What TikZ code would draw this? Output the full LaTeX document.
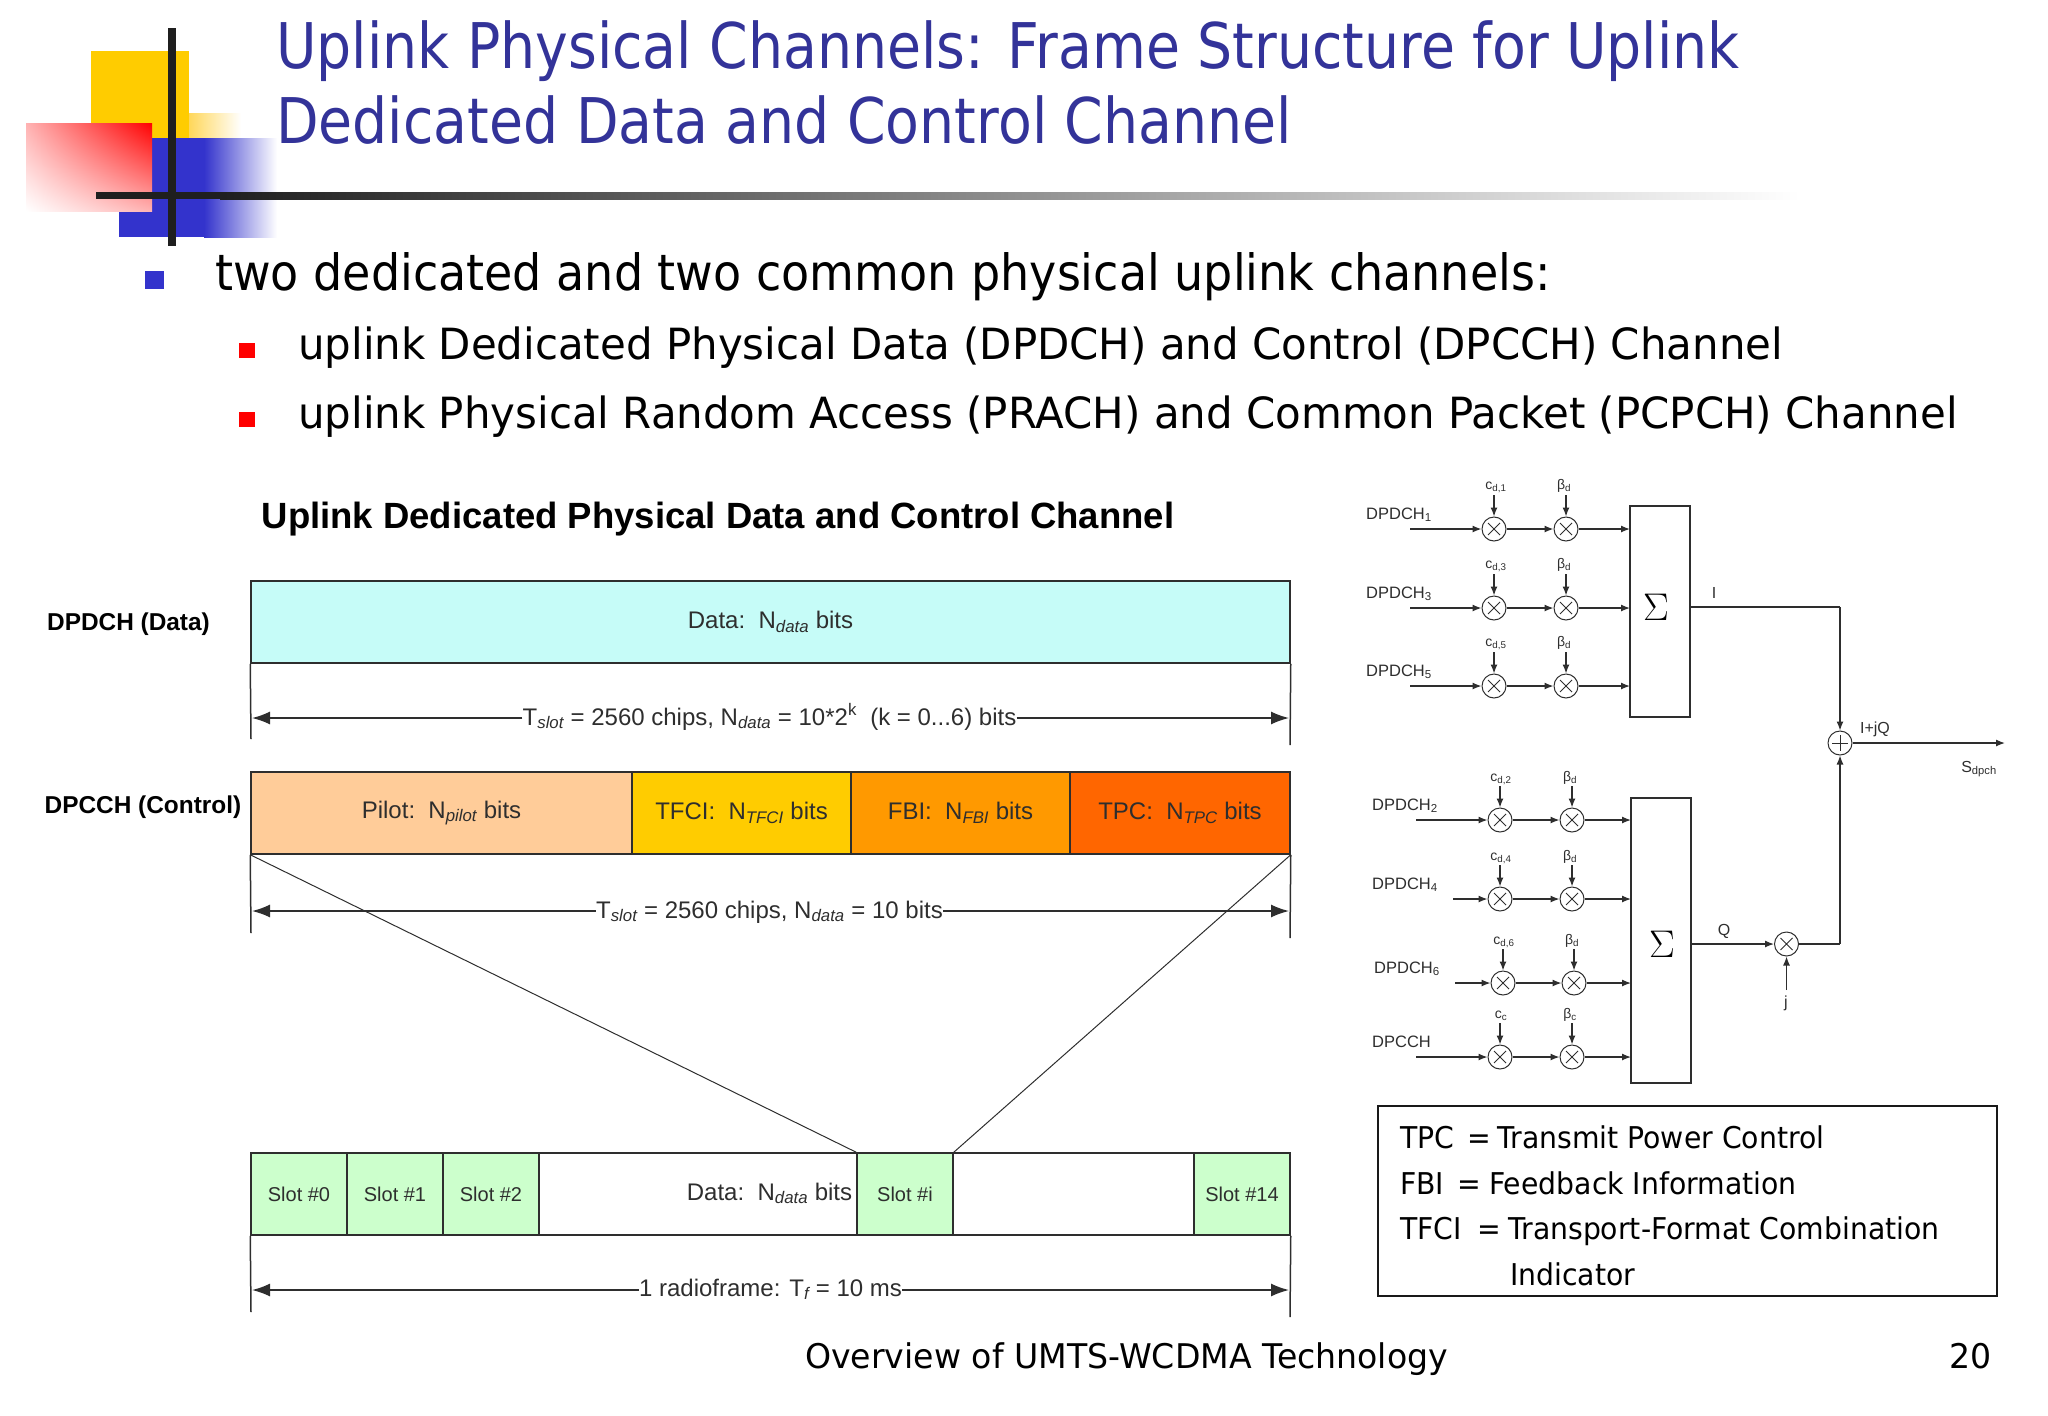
\documentclass[tikz,border=0pt]{standalone}
\usepackage{fontspec}
\usetikzlibrary{arrows.meta,shadings}
\setmainfont{Liberation Sans}
\newfontfamily\titlefont[FakeStretch=0.878]{DejaVu Sans}
\newfontfamily\pointfont[FakeStretch=0.92]{DejaVu Sans}
\newfontfamily\subpointfont[FakeStretch=0.975]{DejaVu Sans}
\newfontfamily\legendfont[FakeStretch=0.943]{DejaVu Sans}
\newcommand{\setsize}[1]{\fontsize{#1}{#1}\selectfont}
\newcommand{\sli}[1]{\textsubscript{\itshape #1}}
\definecolor{titleblue}{HTML}{333399}
\definecolor{bulletblue}{HTML}{3333CC}
\definecolor{slotgreen}{HTML}{CCFFCC}
\definecolor{datacyan}{HTML}{C6FCF8}
\definecolor{inkgray}{HTML}{2E2E2E}
\tikzset{
	slidetext/.style={anchor=base west, inner sep=0pt, font=\legendfont\setsize{#1}},
	figtext/.style={anchor=base, inner sep=0pt, text=inkgray, font=\setsize{#1}},
	field/.style={draw=inkgray, line width=1.5pt, inner sep=0pt, text=inkgray, font=\setsize{24}},
	slotbox/.style={field, fill=slotgreen, minimum width=96, minimum height=82, font=\setsize{20}},
	dimline/.style={line width=1.6pt, draw=inkgray, -{Latex[length=18,width=13]}},
	tickline/.style={line width=1.5pt, draw=inkgray},
	sigline/.style={line width=1.3pt, draw=inkgray, -{Latex[length=9,width=7]}},
	plainline/.style={line width=1.3pt, draw=inkgray},
	mult/.style={circle, draw=inkgray, line width=1pt, minimum size=24, inner sep=0pt, path picture={
		\draw[line width=.9pt, draw=inkgray] (path picture bounding box.center) +(-6,-6) -- +(6,6) +(-6,6) -- +(6,-6);}},
	adder/.style={circle, draw=inkgray, line width=1pt, minimum size=24, inner sep=0pt, path picture={
		\draw[line width=.9pt, draw=inkgray] (path picture bounding box.center) +(-8,0) -- +(8,0) +(0,-8) -- +(0,8);}},
	sumbox/.style={draw=inkgray, line width=1.2pt, minimum width=60, inner sep=0pt},
	sumsign/.style={inner sep=0pt, scale=1.55, font=\setsize{24.88}},
	chlabel/.style={anchor=base west, inner sep=0pt, text=inkgray, font=\setsize{16.5}},
	gainlabel/.style={anchor=base, inner sep=0pt, text=inkgray, font=\setsize{14}}
}

\begin{document}
\begin{tikzpicture}[x=1pt, y=-1pt]
	%%%%% CORNER ART %%%%%
	\useasboundingbox (0, 0) rectangle (2048, 1416);
	\fill[color={rgb,255:red,255;green,204;blue,0}] (91, 51) rectangle (189, 138);
	\shade[left color={rgb,255:red,255;green,215;blue,90}, right color=white] (189, 113) rectangle (241, 138);
	\shade[left color=bulletblue, right color=white] (204, 138) rectangle (277, 237);
	\fill[color=bulletblue] (119, 138) rectangle (205, 237);
	\shade[upper right=red, lower left=white, upper left=red!30, lower right=red!30] (26, 123) rectangle (152, 211);
	\fill[color=black!88] (168, 28) rectangle (175.5, 246);
	\fill[color=black!88] (96, 192) rectangle (220, 199);
	\shade[left color=black!88, right color=white] (220, 192) rectangle (1800, 199);

	%%%%% SLIDE TEXT %%%%%
	\node[slidetext=63, font=\titlefont\setsize{63}, text=titleblue] (titlea) at (276, 68) {Uplink Physical Channels: Frame Structure for Uplink};
	\node[slidetext=63, font=\titlefont\setsize{63}, text=titleblue] (titleb) at (276, 143) {Dedicated Data and Control Channel};

	\fill[color=bulletblue] (145, 271) rectangle (164, 289);
	\node[slidetext=50, font=\pointfont\setsize{50}] (pointa) at (215, 290) {two dedicated and two common physical uplink channels:};
	\fill[color=red] (239, 343) rectangle (255, 358);
	\node[slidetext=43, font=\subpointfont\setsize{43}] (pointb) at (298, 359) {uplink Dedicated Physical Data (DPDCH) and Control (DPCCH) Channel};
	\fill[color=red] (239, 412) rectangle (255, 427);
	\node[slidetext=43, font=\subpointfont\setsize{43}] (pointc) at (298, 428) {uplink Physical Random Access (PRACH) and Common Packet (PCPCH) Channel};

	\node[slidetext=34, font=\subpointfont\setsize{34}] (footer) at (805, 1368) {Overview of UMTS-WCDMA Technology};
	\node[slidetext=34, font=\subpointfont\setsize{34}] (pagenum) at (1949, 1368) {20};

	%%%%% FRAME STRUCTURE %%%%%
	\node[anchor=base, inner sep=0pt, font=\bfseries\setsize{36.5}] (heading) at (718, 528) {Uplink Dedicated Physical Data and Control Channel};
	\node[anchor=base, inner sep=0pt, font=\bfseries\setsize{24.4}] (dpdchname) at (128.5, 630) {DPDCH (Data)};
	\node[anchor=base, inner sep=0pt, font=\bfseries\setsize{24.4}] (dpcchname) at (143, 813) {DPCCH (Control)};

	\node[field, fill=datacyan, minimum width=1039, minimum height=82] (datafield) at (770.5, 622) {Data:\ \ N\sli{data} bits};

	\coordinate (tickaleft) at (251, 739);
	\coordinate (tickaright) at (1290, 745);
	\coordinate (dimaleft) at (252, 718);
	\coordinate (dimaright) at (1289, 718);
	\draw[tickline] (datafield.south west) -- (tickaleft);
	\draw[tickline] (datafield.south east) -- (tickaright);
	\node[figtext=24] (dimatext) at (769.5, 725) {T\sli{slot} = 2560 chips, N\sli{data} = 10*2\textsuperscript{k}\ \ (k = 0...6) bits};
	\draw[dimline] (dimatext.west |- dimaleft) -- (dimaleft);
	\draw[dimline] (dimatext.east |- dimaright) -- (dimaright);

	\node[field, fill={rgb,255:red,255;green,204;blue,153}, minimum width=381, minimum height=82] (pilot) at (441.5, 813) {Pilot:\ \ N\sli{pilot} bits};
	\node[field, fill={rgb,255:red,255;green,204;blue,0}, minimum width=219, minimum height=82] (tfci) at (741.5, 813) {TFCI:\ \ N\sli{TFCI} bits};
	\node[field, fill={rgb,255:red,255;green,153;blue,0}, minimum width=219, minimum height=82] (fbi) at (960.5, 813) {FBI:\ \ N\sli{FBI} bits};
	\node[field, fill={rgb,255:red,255;green,102;blue,0}, minimum width=220, minimum height=82] (tpc) at (1180, 813) {TPC:\ \ N\sli{TPC} bits};

	\coordinate (tickbleft) at (251, 933);
	\coordinate (tickbright) at (1290, 938);
	\coordinate (dimbleft) at (252, 911);
	\coordinate (dimbright) at (1289, 911);
	\draw[tickline] (pilot.south west) -- (tickbleft);
	\draw[tickline] (tpc.south east) -- (tickbright);
	\node[figtext=24] (dimbtext) at (769.5, 918) {T\sli{slot} = 2560 chips, N\sli{data} = 10 bits};
	\draw[dimline] (dimbtext.west |- dimbleft) -- (dimbleft);
	\draw[dimline] (dimbtext.east |- dimbright) -- (dimbright);

	\node[field, minimum width=1039, minimum height=82] (radioframe) at (770.5, 1194) {};
	\foreach \nm/\cx/\lab in {a/299/0, b/395/1, c/491/2, i/905/i, n/1242/14}{
		\node[slotbox] (slot\nm) at (\cx, 1194) {Slot \#\lab};
	}
	\node[figtext=24] (framedata) at (769.5, 1200) {Data:\ \ N\sli{data} bits};
	\draw[line width=1pt, draw=inkgray] (pilot.south west) -- (sloti.north west);
	\draw[line width=1pt, draw=inkgray] (tpc.south east) -- (sloti.north east);

	\coordinate (tickcleft) at (251, 1312);
	\coordinate (tickcright) at (1290, 1317);
	\coordinate (dimcleft) at (252, 1290);
	\coordinate (dimcright) at (1289, 1290);
	\draw[tickline] (radioframe.south west) -- (tickcleft);
	\draw[tickline] (radioframe.south east) -- (tickcright);
	\node[figtext=24] (dimctext) at (770.5, 1296) {1 radioframe: T\sli{f} = 10 ms};
	\draw[dimline] (dimctext.west |- dimcleft) -- (dimcleft);
	\draw[dimline] (dimctext.east |- dimcright) -- (dimcright);

	%%%%% SPREADER %%%%%
	\node[sumbox, minimum height=211] (sumi) at (1660, 611.5) {};
	\node[sumsign] (signi) at (1656, 607) {$\Sigma$};
	\node[sumbox, minimum height=285] (sumq) at (1661, 940.5) {};
	\node[sumsign] (signq) at (1662, 944) {$\Sigma$};

	\foreach \k/\ry in {1/529, 3/608, 5/686}{
		\node[chlabel] (chan\k) at (1366, \ry-10) {DPDCH\textsubscript{\k}};
		\coordinate (start\k) at (1410, \ry);
		\coordinate (end\k) at (1630, \ry);
		\node[mult] (cmul\k) at (1494, \ry) {};
		\node[mult] (bmul\k) at (1566, \ry) {};
		\node[gainlabel] (clab\k) at (1496, \ry-40) {c\textsubscript{d,\k}};
		\node[gainlabel] (blab\k) at (1564, \ry-40) {β\textsubscript{d}};
		\coordinate (ctop\k) at (1494, \ry-34);
		\coordinate (btop\k) at (1566, \ry-34);
		\draw[sigline] (start\k) -- (cmul\k);
		\draw[sigline] (cmul\k) -- (bmul\k);
		\draw[sigline] (bmul\k) -- (end\k);
		\draw[sigline] (ctop\k) -- (cmul\k);
		\draw[sigline] (btop\k) -- (bmul\k);
	}

	\foreach \k/\ry/\cx/\bx/\sx/\lx/\name/\cidx/\bidx in {2/820/1500/1572/1416/1372/DPDCH\textsubscript{2}/{d,2}/d, 4/899/1500/1572/1453/1372/DPDCH\textsubscript{4}/{d,4}/d, 6/983/1503/1574/1455/1374/DPDCH\textsubscript{6}/{d,6}/d, 8/1057/1500/1572/1416/1372/DPCCH/c/c}{
		\node[chlabel] (chan\k) at (\lx, \ry-10) {\name};
		\coordinate (start\k) at (\sx, \ry);
		\coordinate (end\k) at (1631, \ry);
		\node[mult] (cmul\k) at (\cx, \ry) {};
		\node[mult] (bmul\k) at (\bx, \ry) {};
		\node[gainlabel] (clab\k) at (\cx+1, \ry-39) {c\textsubscript{\cidx}};
		\node[gainlabel] (blab\k) at (\bx-2, \ry-39) {β\textsubscript{\bidx}};
		\coordinate (ctop\k) at (\cx, \ry-34);
		\coordinate (btop\k) at (\bx, \ry-34);
		\draw[sigline] (start\k) -- (cmul\k);
		\draw[sigline] (cmul\k) -- (bmul\k);
		\draw[sigline] (bmul\k) -- (end\k);
		\draw[sigline] (ctop\k) -- (cmul\k);
		\draw[sigline] (btop\k) -- (bmul\k);
	}

	\node[adder] (adder) at (1840, 743) {};
	\node[mult] (jmul) at (1786.5, 944) {};
	\coordinate (ibend) at (1840, 607);
	\coordinate (qbend) at (1840, 944);
	\coordinate (iout) at (1690, 607);
	\coordinate (qout) at (1691, 944);
	\coordinate (sout) at (2005, 743);
	\coordinate (jin) at (1786.5, 990);
	\draw[plainline] (iout) -- (ibend);
	\draw[sigline] (ibend) -- (adder);
	\draw[sigline] (qout) -- (jmul);
	\draw[plainline] (jmul) -- (qbend);
	\draw[sigline] (qbend) -- (adder);
	\draw[sigline] (adder) -- (sout);
	\draw[sigline] (jin) -- (jmul);
	\node[gainlabel, font=\setsize{16}] (ilab) at (1714, 598) {I};
	\node[gainlabel, font=\setsize{16}] (qlab) at (1724, 935) {Q};
	\node[gainlabel, font=\setsize{16}] (jlab) at (1786, 1007) {j};
	\node[gainlabel, font=\setsize{16}] (iqlab) at (1875, 733) {I+jQ};
	\node[gainlabel, font=\setsize{16}] (slab) at (1979, 772) {S\textsubscript{dpch}};

	%%%%% LEGEND %%%%%
	\node[draw=black!90, line width=2pt, minimum width=619, minimum height=190, inner sep=0pt] (legend) at (1687, 1201) {};
	\node[slidetext=30] (tpcterm) at (1400, 1148) {TPC};
	\node[slidetext=30] (tpceq) at (1467, 1148) {=};
	\node[slidetext=30] (tpcdef) at (1497, 1148) {Transmit Power Control};
	\node[slidetext=30] (fbiterm) at (1400, 1194) {FBI};
	\node[slidetext=30] (fbieq) at (1457, 1194) {=};
	\node[slidetext=30] (fbidef) at (1489, 1194) {Feedback Information};
	\node[slidetext=30] (tfciterm) at (1400, 1239) {TFCI};
	\node[slidetext=30] (tfcieq) at (1477, 1239) {=};
	\node[slidetext=30] (tfcidef) at (1508, 1239) {Transport-Format Combination};
	\node[slidetext=30] (tfcimore) at (1510, 1285) {Indicator};
\end{tikzpicture}
\end{document}
